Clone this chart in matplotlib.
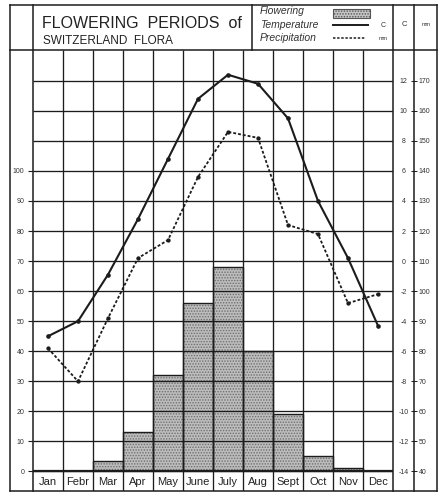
import numpy as np
import matplotlib
matplotlib.use('Agg')
import matplotlib.pyplot as plt
from matplotlib.patches import Rectangle

plt.rcParams['font.family'] = ['Liberation Sans', 'DejaVu Sans']
plt.rcParams['hatch.linewidth'] = 0.7

# monthly data
months = ['Jan', 'Febr', 'Mar', 'Apr', 'May', 'June', 'July', 'Aug', 'Sept', 'Oct', 'Nov', 'Dec']
flowering = [0, 0, 3.5, 13, 32, 56, 68, 40, 19, 5, 1, 0]
temperature = [-5.0, -4.0, -0.9, 2.8, 6.8, 10.8, 12.4, 11.8, 9.5, 4.0, 0.2, -4.3]
precipitation = [81, 70, 91, 111, 117, 138, 153, 151, 122, 119, 96, 99]

left_ticks = list(range(0, 101, 10))
temp_ticks = list(range(-14, 13, 2))
prec_ticks = list(range(40, 171, 10))

W, H = 442, 497
ink = '#1c1c1c'

fig = plt.figure(figsize=(W / 100, H / 100), dpi=100)
fig.patch.set_facecolor('white')


def px_rect(x0, y0, x1, y1):
    return [x0 / W, 1 - y1 / H, (x1 - x0) / W, (y1 - y0) / H]


# plot area: 12 month columns, scale 0..140 (label row below zero)
ybot, ytop = -6.49, 140.24
ax = fig.add_axes(px_rect(33, 50, 393, 491))
ax.set_xlim(0, 12)
ax.set_ylim(ybot, ytop)
for s in ax.spines.values():
    s.set_visible(False)
ax.set_xticks([])
ax.set_yticks(left_ticks, [str(v) for v in left_ticks])
ax.tick_params(axis='y', labelsize=5, length=3.6, width=0.8, pad=2.5,
               direction='out', colors=ink, labelcolor='#333333')

x = np.arange(12) + 0.5

# flowering bars, stippled
ax.bar(x, flowering, width=1.0, color='#bdbdbd', edgecolor='none', zorder=1)
ax.bar(x, flowering, width=1.0, facecolor='none', edgecolor='#6e6e6e',
       hatch='......', linewidth=0, zorder=1.2)
ax.bar(x, flowering, width=1.0, facecolor='none', edgecolor=ink,
       linewidth=1.0, zorder=1.4)

# grid
ax.hlines(range(10, 131, 10), 0, 12, color=ink, lw=0.95, zorder=2)
ax.hlines(0, 0, 12, color=ink, lw=1.6, zorder=2)
ax.vlines(range(1, 12), ybot, ytop, color=ink, lw=0.95, zorder=2)

for xi, m in zip(x, months):
    ax.text(xi, ybot / 2 - 0.3, m, ha='center', va='center', fontsize=8, color='#222222')

# temperature axis
ax_t = ax.twinx()
ax_t.set_ylim((ybot - 70) / 5, (ytop - 70) / 5)
for s in ax_t.spines.values():
    s.set_visible(False)
ax_t.set_yticks(temp_ticks, [str(v) for v in temp_ticks], ha='center')
ax_t.tick_params(axis='y', labelsize=5, length=0, pad=7.5, labelcolor='#333333')
ax_t.plot(x, temperature, color=ink, lw=1.5, marker='o', markersize=2.3, zorder=3)

# precipitation axis, on the C / mm column border
ax_p = ax.twinx()
ax_p.set_ylim(ybot + 40, ytop + 40)
for s in ax_p.spines.values():
    s.set_visible(False)
ax_p.spines['right'].set_position(('axes', 381 / 360))
ax_p.set_yticks(prec_ticks, [str(v) for v in prec_ticks], ha='left')
ax_p.tick_params(axis='y', labelsize=5, length=5, width=0.7, pad=1.0,
                 direction='inout', colors=ink, labelcolor='#333333')
ax_p.plot(x, precipitation, color=ink, lw=1.3, linestyle=(0, (1.6, 1.1)),
          marker='o', markersize=2.1, zorder=3)

# table frame and header
fr = fig.add_axes([0, 0, 1, 1])
fr.set_xlim(0, W)
fr.set_ylim(H, 0)
fr.axis('off')
fr.patch.set_visible(False)

lw = 1.1
fr.plot([10, 437], [5, 5], color=ink, lw=lw)
fr.plot([10, 437], [50, 50], color=ink, lw=lw)
fr.plot([10, 437], [491, 491], color=ink, lw=lw)
for xv in [10, 33, 393, 414, 437]:
    fr.plot([xv, xv], [5, 491], color=ink, lw=lw)
fr.plot([252, 252], [5, 50], color=ink, lw=lw)

fr.text(42, 28, 'FLOWERING  PERIODS  of', fontsize=11.5, color='#222222', va='baseline')
fr.text(43, 43.5, 'SWITZERLAND  FLORA', fontsize=8.5, color='#222222', va='baseline')

fr.text(260, 14.5, 'Flowering', fontsize=7.5, style='italic', color='#333333', va='baseline')
fr.text(260, 27.5, 'Temperature', fontsize=7.5, style='italic', color='#333333', va='baseline')
fr.text(260, 41, 'Precipitation', fontsize=7.5, style='italic', color='#333333', va='baseline')

fr.add_patch(Rectangle((333, 9), 37, 9, facecolor='#c4c4c4', edgecolor='#555555',
                       hatch='......', lw=0.8))
fr.plot([333, 368], [25, 25], color=ink, lw=1.4)
fr.plot([333, 366], [38, 38], color=ink, lw=1.1, linestyle=(0, (1.6, 1.1)))
fr.text(383, 25.5, 'C', fontsize=5, color='#333333', ha='center', va='center')
fr.text(383, 39, 'mm', fontsize=4, color='#333333', ha='center', va='center')
fr.text(404, 24.5, 'C', fontsize=5.5, color='#333333', ha='center', va='center')
fr.text(426, 24.5, 'mm', fontsize=4, color='#333333', ha='center', va='center')

fig.savefig('out.png', dpi=100, facecolor='white')
